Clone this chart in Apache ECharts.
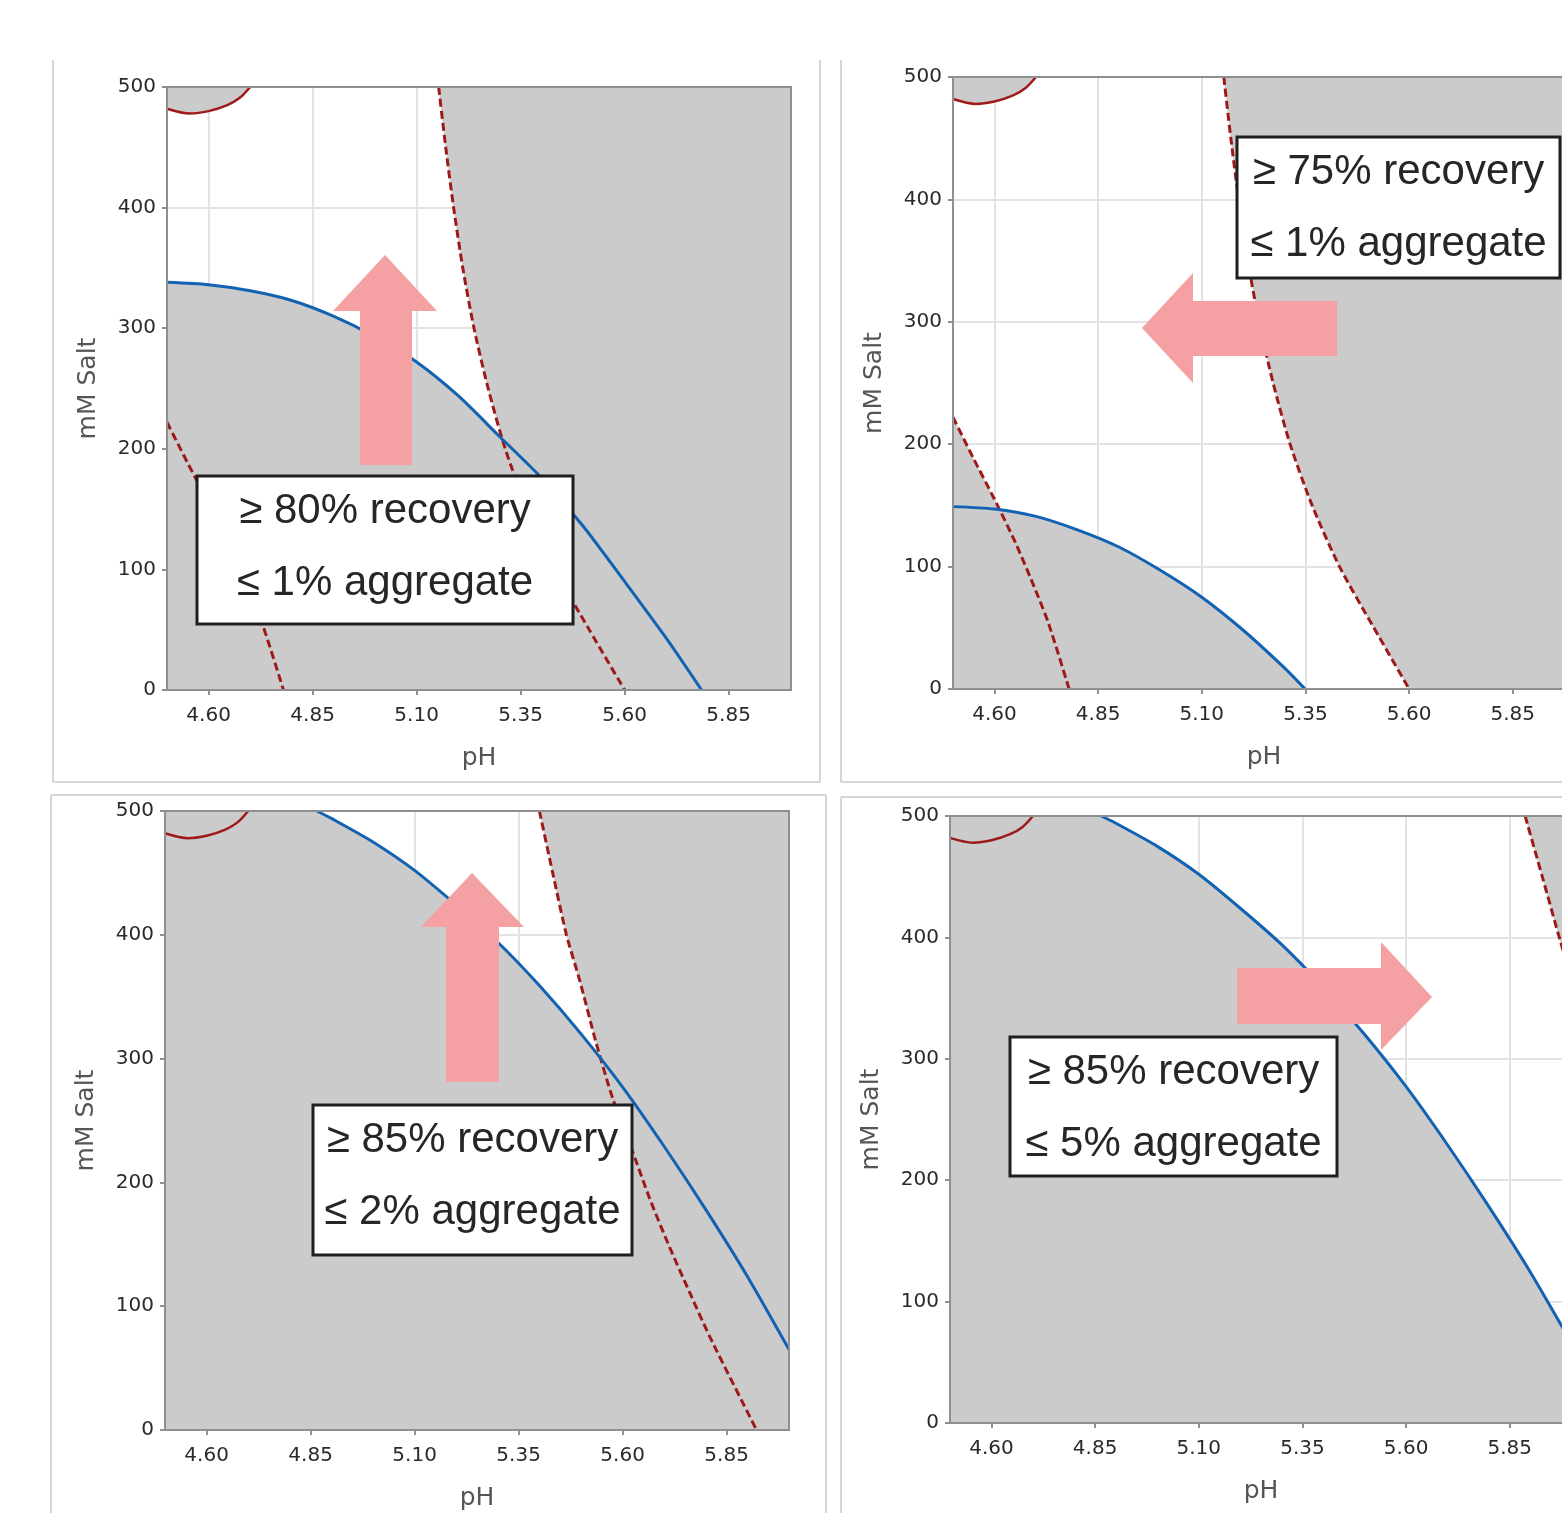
<!DOCTYPE html>
<html>
<head>
<meta charset="utf-8">
<script src="https://cdn.jsdelivr.net/npm/echarts@6/dist/echarts.min.js"></script>
<style>
  html, body { margin: 0; padding: 0; background: #fff; }
  #chart { width: 1562px; height: 1513px; }
</style>
</head>
<body>
<div id="chart"></div>
<script>
// axis ranges and tick labels (same in all four panels)
const phRange = [4.5, 6.0];
const saltRange = [0, 500];
const phTicks = [4.60, 4.85, 5.10, 5.35, 5.60, 5.85];

// recovery contours (blue), [pH, mM salt]
const rec75 = [[4.5,149],[4.6,147],[4.7,141],[4.8,130],[4.9,116],[5.0,97],[5.1,75],[5.2,48],[5.3,17],[5.349,0]];
const rec80 = [[4.5,338],[4.6,336],[4.7,331],[4.8,323],[4.9,310],[5.0,293],[5.1,272],[5.2,244],[5.3,210],[5.4,176],[5.5,136],[5.6,90],[5.7,43],[5.785,0]];
const rec85 = [[4.865,500],[4.9,494],[5.0,475],[5.1,452],[5.2,424],[5.3,394],[5.4,359],[5.5,320],[5.6,277],[5.7,229],[5.8,178],[5.9,124],[6.0,65]];

// aggregate contours (dark red)
const aggArc = [[4.50,482],[4.555,478],[4.60,480],[4.645,485],[4.675,491],[4.70,500]];
const agg1Left = [[4.50,222],[4.55,188],[4.60,155],[4.65,120],[4.70,80],[4.731,53],[4.78,0]];
const agg1Right = [[5.153,500],[5.170,450],[5.189,400],[5.211,350],[5.238,300],[5.272,250],[5.313,200],[5.366,150],[5.432,100],[5.515,50],[5.60,0]];
const agg2Right = [[5.40,500],[5.432,450],[5.465,400],[5.497,363],[5.537,312],[5.577,267],[5.625,224],[5.665,187],[5.71,150],[5.76,112],[5.81,75],[5.922,0]];
const agg5Right = [[5.887,500],[5.93,448],[5.971,398],[6.0,365]];

const noteLines = [
  ['≥ 80% recovery', '≤ 1% aggregate'],
  ['≥ 75% recovery', '≤ 1% aggregate'],
  ['≥ 85% recovery', '≤ 2% aggregate'],
  ['≥ 85% recovery', '≤ 5% aggregate'],
];

const [X0, X1] = phRange;
const [Y0, Y1] = saltRange;

const GRAY = '#cbcbcb';
const BLUE = '#1262b3';
const RED = '#9e1a1a';
const PINK = '#f5a0a2';

// layout of the four panels
const grids = [
  { left: 167, top: 87, width: 624, height: 603 },
  { left: 953, top: 77, width: 622, height: 612 },
  { left: 165, top: 811, width: 624, height: 619 },
  { left: 950, top: 816, width: 622, height: 607 },
];

const panels = [
  {
    blue: rec80, dashed: [agg1Left, agg1Right],
    fills: [
      [...rec80, [X0, Y0]],
      [...agg1Left, [X0, Y0]],
      [...agg1Right, [X1, Y0], [X1, Y1]],
      [...aggArc, [X0, Y1]],
    ],
  },
  {
    blue: rec75, dashed: [agg1Left, agg1Right],
    fills: [
      [...rec75, [X0, Y0]],
      [...agg1Left, [X0, Y0]],
      [...agg1Right, [X1, Y0], [X1, Y1]],
      [...aggArc, [X0, Y1]],
    ],
  },
  {
    blue: rec85, dashed: [agg2Right],
    fills: [
      [[X0, Y1], ...rec85, [X1, Y0], [X0, Y0]],
      [...agg2Right, [X1, Y0], [X1, Y1]],
    ],
  },
  {
    blue: rec85, dashed: [agg5Right],
    fills: [
      [[X0, Y1], ...rec85, [X1, Y0], [X0, Y0]],
      [...agg5Right, [X1, Y1]],
    ],
  },
];

// annotation boxes and arrows (pixel positions)
const boxes = [
  { x: 197, y: 476, w: 376, h: 148 },
  { x: 1237, y: 137, w: 323, h: 141 },
  { x: 313, y: 1105, w: 319, h: 150 },
  { x: 1010, y: 1037, w: 327, h: 139 },
];
const arrows = [
  [[385,255],[437,311],[412,311],[412,465],[360,465],[360,311],[333,311]],
  [[1142,328],[1193,273],[1193,301],[1337,301],[1337,356],[1193,356],[1193,383]],
  [[472,873],[524,927],[499,927],[499,1082],[446,1082],[446,927],[421,927]],
  [[1432,997],[1381,942],[1381,968],[1237,968],[1237,1024],[1381,1024],[1381,1050]],
];
const frames = [
  [53,60,53,782],[53,782,820,782],[820,60,820,782],
  [841,60,841,782],[841,782,1562,782],
  [51,795,826,795],[51,795,51,1513],[826,795,826,1513],
  [841,797,1562,797],[841,797,841,1513],
];

const tickFont = { fontFamily: 'DejaVu Sans', fontSize: 20, color: '#2a2a2a' };
const nameFont = { fontFamily: 'DejaVu Sans', fontSize: 25, color: '#555' };
const axisGray = '#8f8f8f';

const xAxes = [], yAxes = [], series = [];

grids.forEach((g, i) => {
  xAxes.push({
    type: 'value', gridIndex: i, min: X0, max: X1,
    name: 'pH', nameLocation: 'middle', nameGap: 56, nameTextStyle: nameFont,
    axisLine: { show: false },
    axisTick: { show: true, length: 5, customValues: phTicks, lineStyle: { color: axisGray, width: 2 } },
    axisLabel: { customValues: phTicks, margin: 16, formatter: v => v.toFixed(2), ...tickFont },
    splitLine: { show: true, lineStyle: { color: '#e3e3e3', width: 2 } },
  });
  yAxes.push({
    type: 'value', gridIndex: i, min: Y0, max: Y1, interval: 100,
    name: 'mM Salt', nameLocation: 'middle', nameGap: 66, nameTextStyle: nameFont,
    axisLine: { show: false },
    axisTick: { show: true, length: 5, lineStyle: { color: axisGray, width: 2 } },
    axisLabel: { margin: 11, ...tickFont },
    splitLine: { show: true, lineStyle: { color: '#e3e3e3', width: 2 } },
  });

  const p = panels[i];
  p.fills.forEach(pts => {
    series.push({
      type: 'custom', xAxisIndex: i, yAxisIndex: i, z: 1, silent: true,
      data: [pts[0]],
      renderItem: (params, api) => ({
        type: 'polygon',
        shape: { points: pts.map(pt => api.coord(pt)) },
        style: { fill: GRAY, stroke: GRAY, lineWidth: 0.5 },
      }),
    });
  });

  series.push({
    type: 'line', xAxisIndex: i, yAxisIndex: i, data: aggArc, z: 3,
    symbol: 'none', smooth: 0.3, silent: true,
    lineStyle: { color: RED, width: 2.5 },
  });
  p.dashed.forEach(curve => {
    series.push({
      type: 'line', xAxisIndex: i, yAxisIndex: i, data: curve, z: 3,
      symbol: 'none', smooth: 0.25, silent: true,
      lineStyle: { color: RED, width: 3, type: [8, 4] },
    });
  });
  series.push({
    type: 'line', xAxisIndex: i, yAxisIndex: i, data: p.blue, z: 4,
    symbol: 'none', smooth: 0.25, silent: true,
    lineStyle: { color: BLUE, width: 3 },
  });
});

const graphics = [];
frames.forEach(f => graphics.push({
  type: 'line', z: 0, silent: true,
  shape: { x1: f[0], y1: f[1], x2: f[2], y2: f[3] },
  style: { stroke: '#d6d6d6', lineWidth: 2 },
}));
arrows.forEach(a => graphics.push({
  type: 'polygon', z: 20, silent: true,
  shape: { points: a },
  style: { fill: PINK },
}));
boxes.forEach((b, i) => {
  graphics.push({
    type: 'rect', z: 21, silent: true,
    shape: { x: b.x, y: b.y, width: b.w, height: b.h },
    style: { fill: '#fff', stroke: '#1f1f1f', lineWidth: 3 },
  });
  noteLines[i].forEach((t, k) => graphics.push({
    type: 'text', z: 22, silent: true,
    x: b.x + b.w / 2, y: b.y + 35 + k * 72,
    style: {
      text: t, fontFamily: 'Liberation Sans', fontSize: 42, fill: '#262626',
      align: 'center', verticalAlign: 'middle',
    },
  }));
});

const chart = echarts.init(document.getElementById('chart'));
chart.setOption({
  animation: false,
  backgroundColor: '#fff',
  grid: grids.map(g => ({
    ...g, show: true, z: 10, outerBoundsMode: 'none',
    borderColor: axisGray, borderWidth: 2, backgroundColor: 'rgba(0,0,0,0)',
  })),
  xAxis: xAxes,
  yAxis: yAxes,
  series: series,
  graphic: graphics,
});
</script>
</body>
</html>
